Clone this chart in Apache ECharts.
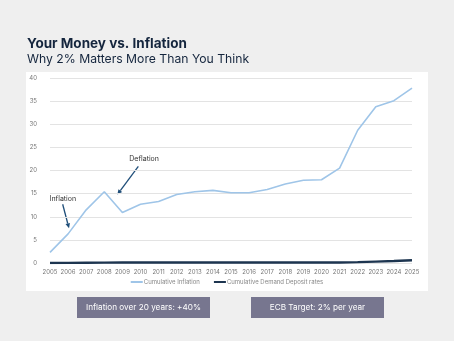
<!DOCTYPE html>
<html>
<head>
<meta charset="utf-8">
<style>
html,body{margin:0;padding:0;background:#efefef;}
#c{width:454px;height:341px;}
</style>
<script src="https://cdn.jsdelivr.net/npm/echarts@6/dist/echarts.min.js"></script>
</head>
<body>
<div id="c"></div>
<script>
const years = [2005,2006,2007,2008,2009,2010,2011,2012,2013,2014,2015,2016,2017,2018,2019,2020,2021,2022,2023,2024,2025];
const cumulativeInflation = [2.3,6.3,11.5,15.4,10.9,12.7,13.3,14.8,15.4,15.7,15.2,15.2,15.9,17.1,17.9,18.0,20.5,28.7,33.8,35.1,37.8];
const cumulativeDeposit = [0.0,0.02,0.05,0.08,0.1,0.1,0.1,0.1,0.1,0.1,0.1,0.1,0.1,0.1,0.1,0.1,0.12,0.18,0.3,0.42,0.6];
const yTicks = {min:0, max:40, interval:5};
const titleText = "Your Money vs. Inflation";
const subtitleText = "Why 2% Matters More Than You Think";
const boxTexts = ["Inflation over 20 years: +40%", "ECB Target: 2% per year"];
const annotations = [
  {text:"Inflation", label:[2005.71,13.9], from:[2005.70,12.7], to:[2006.05,7.5]},
  {text:"Deflation", label:[2010.2,22.6], from:[2009.88,20.9], to:[2008.72,14.8]}
];

const chart = echarts.init(document.getElementById('c'));
const font = 'Inter, "Noto Sans", sans-serif';
const pair = (arr) => years.map((y,i)=>[y,arr[i]]);

chart.setOption({
  backgroundColor:'#efefef',
  animation:false,
  grid:{left:50,right:42,top:78,bottom:78},
  xAxis:{type:'value',min:2005,max:2025,interval:1,
    axisLine:{show:false},axisTick:{show:false},splitLine:{show:false},
    axisLabel:{formatter:v=>String(v),fontSize:6,color:'#777',fontFamily:font,margin:6}},
  yAxis:{type:'value',min:yTicks.min,max:yTicks.max,interval:yTicks.interval,
    axisLine:{show:false},axisTick:{show:false},
    splitLine:{lineStyle:{color:'#e3e3e3',width:1}},
    axisLabel:{fontSize:6,color:'#777',fontFamily:font,margin:13}},
  legend:{bottom:51,left:'center',itemWidth:12,itemHeight:2,itemGap:14,
    icon:'rect',textStyle:{fontSize:6,color:'#888',fontFamily:font,padding:[0,0,0,-4]},
    data:['Cumulative Inflation','Cumulative Demand Deposit rates']},
  series:[
    {name:'Cumulative Inflation',type:'line',data:pair(cumulativeInflation),symbol:'none',
      lineStyle:{color:'#9fc5e8',width:1.6},itemStyle:{color:'#9fc5e8'},z:3},
    {name:'Cumulative Demand Deposit rates',type:'line',data:pair(cumulativeDeposit),symbol:'none',
      lineStyle:{color:'#1d3550',width:2.4},itemStyle:{color:'#1d3550'},z:4}
  ],
  graphic:[]
});

const g = [
  {type:'rect',z:-10,shape:{x:26,y:72,width:402,height:219},style:{fill:'#ffffff'}},
  {type:'text',left:27,top:37,style:{text:titleText,font:'bold 13.5px '+font,fill:'#14253d'}},
  {type:'text',left:27,top:53,style:{text:subtitleText,font:'12.2px '+font,fill:'#14253d'}},
  {type:'rect',shape:{x:77,y:297,width:133,height:21},style:{fill:'#77768f'}},
  {type:'rect',shape:{x:251,y:297,width:133,height:21},style:{fill:'#77768f'}},
  {type:'text',x:143.5,y:307.5,style:{text:boxTexts[0],font:'8.2px '+font,fill:'#ffffff',align:'center',verticalAlign:'middle'}},
  {type:'text',x:317.5,y:307.5,style:{text:boxTexts[1],font:'8.2px '+font,fill:'#ffffff',align:'center',verticalAlign:'middle'}}
];
annotations.forEach(a=>{
  const lp = chart.convertToPixel({gridIndex:0}, a.label);
  const p1 = chart.convertToPixel({gridIndex:0}, a.from);
  const p2 = chart.convertToPixel({gridIndex:0}, a.to);
  g.push({type:'text',x:lp[0],y:lp[1],style:{text:a.text,font:'7px '+font,fill:'#333',align:'center',verticalAlign:'middle'}});
  const dx=p2[0]-p1[0], dy=p2[1]-p1[1], L=Math.hypot(dx,dy), ux=dx/L, uy=dy/L;
  const hl=5, hw=2.3;
  const bx=p2[0]-ux*hl, by=p2[1]-uy*hl;
  g.push({type:'line',shape:{x1:p1[0],y1:p1[1],x2:bx,y2:by},style:{stroke:'#1f4e79',lineWidth:1.3}});
  g.push({type:'polygon',shape:{points:[[p2[0],p2[1]],[bx-uy*hw,by+ux*hw],[bx+uy*hw,by-ux*hw]]},style:{fill:'#1f4e79'}});
});
chart.setOption({graphic:g});
</script>
</body>
</html>
